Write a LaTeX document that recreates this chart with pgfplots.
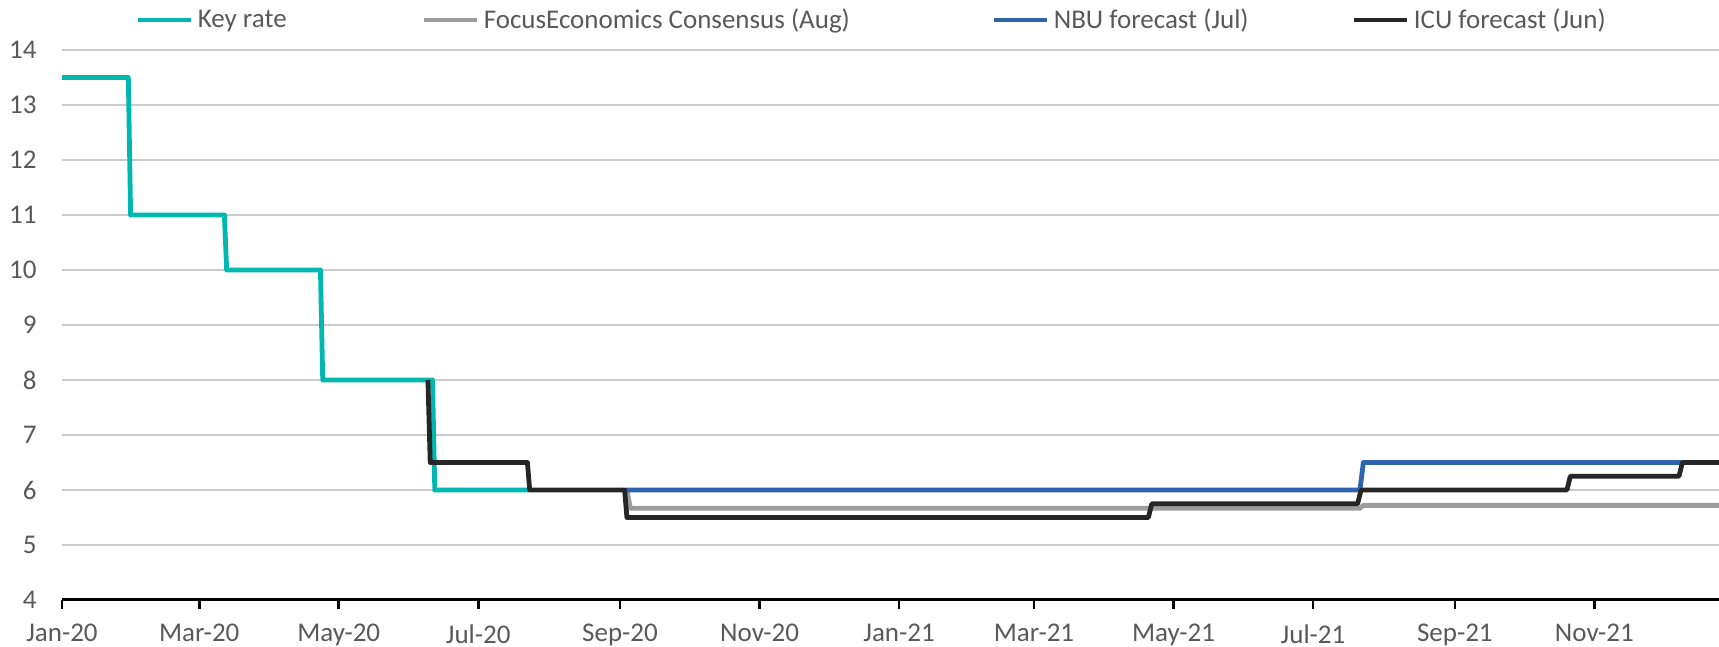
\documentclass[border=0pt]{standalone}
\usepackage{fontspec}
\setmainfont{Carlito}
\usepackage{pgfplots}
\pgfplotsset{compat=1.18}
\definecolor{keycyan}{HTML}{00B8B0}
\definecolor{focusgray}{HTML}{9C9C9C}
\definecolor{nbublue}{HTML}{2E64AE}
\definecolor{icublack}{HTML}{262626}
\definecolor{gridgray}{HTML}{C8CCCC}
\definecolor{labelgray}{HTML}{595959}
\pgfplotsset{
  legaxis/.style={
    scale only axis=true, width=828.5pt, height=275pt,
    xmin=0, xmax=1, ymin=0, ymax=1, hide axis,
    legend style={at={(0,1)}, anchor=west, xshift=#1, yshift=15pt,
      draw=none, fill=none, inner sep=0pt, outer sep=0pt,
      font=\fontsize{13.5}{16}\selectfont, text=labelgray,
      nodes={inner sep=0pt},
      /tikz/every odd column/.append style={column sep=2pt}},
    legend image code/.code={\draw[##1] (0pt,0pt) -- (26.5pt,0pt);},
  }
}
\begin{document}
\begin{tikzpicture}
\begin{axis}[
  name=ax,
  scale only axis=true,
  width=828.5pt, height=275pt,
  xmin=0, xmax=724.5,
  ymin=4, ymax=14,
  ytick={4,5,...,14},
  xtick={0,60,121,182,244,305,366,425,486,547,609,670},
  xticklabels={Jan-20,Mar-20,May-20,Jul-20,Sep-20,Nov-20,Jan-21,Mar-21,May-21,Jul-21,Sep-21,Nov-21},
  axis x line*=bottom,
  axis y line*=left,
  y axis line style={draw=none},
  x axis line style={black, line width=1.5pt},
  ymajorgrids=true,
  major grid style={gridgray, line width=1.2pt},
  ytick style={draw=none},
  xtick style={black, line width=1.3pt},
  tick align=outside,
  major tick length=4.5pt,
  /pgf/number format/assume math mode=true,
  tick label style={font=\fontsize{13.5}{16}\selectfont, text=labelgray},
  yticklabel style={anchor=east, inner sep=0pt, xshift=-8pt},
  xticklabel style={anchor=north, inner sep=0pt, yshift=-7.5pt},
  every axis plot/.append style={line width=2.4pt, line join=round},
]
\addplot[keycyan] coordinates {(0,13.5) (29,13.5) (30,11) (71,11) (72,10) (113,10) (114,8) (162,8) (163,6) (204,6)};
\addplot[focusgray] coordinates {(247,6) (248.5,5.667) (567.5,5.667) (569,5.72) (731,5.72)};
\addplot[nbublue] coordinates {(246.5,6) (567.5,6) (569,6.5) (731,6.5)};
\addplot[icublack] coordinates {(160,8) (161,6.5) (203.5,6.5) (204.5,6) (246,6) (247,5.5) (475,5.5) (476.5,5.75) (566.5,5.75) (568,6) (658,6) (659.5,6.25) (707,6.25) (708.5,6.5) (731,6.5)};
\end{axis}
\begin{axis}[legaxis=37pt]
\addlegendimage{keycyan, line width=2.4pt}
\addlegendentry{Key rate}
\end{axis}
\begin{axis}[legaxis=180pt]
\addlegendimage{focusgray, line width=2.4pt}
\addlegendentry{FocusEconomics Consensus (Aug)}
\end{axis}
\begin{axis}[legaxis=465pt]
\addlegendimage{nbublue, line width=2.4pt}
\addlegendentry{NBU forecast (Jul)}
\end{axis}
\begin{axis}[legaxis=645pt]
\addlegendimage{icublack, line width=2.4pt}
\addlegendentry{ICU forecast (Jun)}
\end{axis}
\pgfresetboundingbox
\path (ax.south west) ++(-31pt,-23.5pt) rectangle ++(859.5pt,323.5pt);
\end{tikzpicture}
\end{document}
